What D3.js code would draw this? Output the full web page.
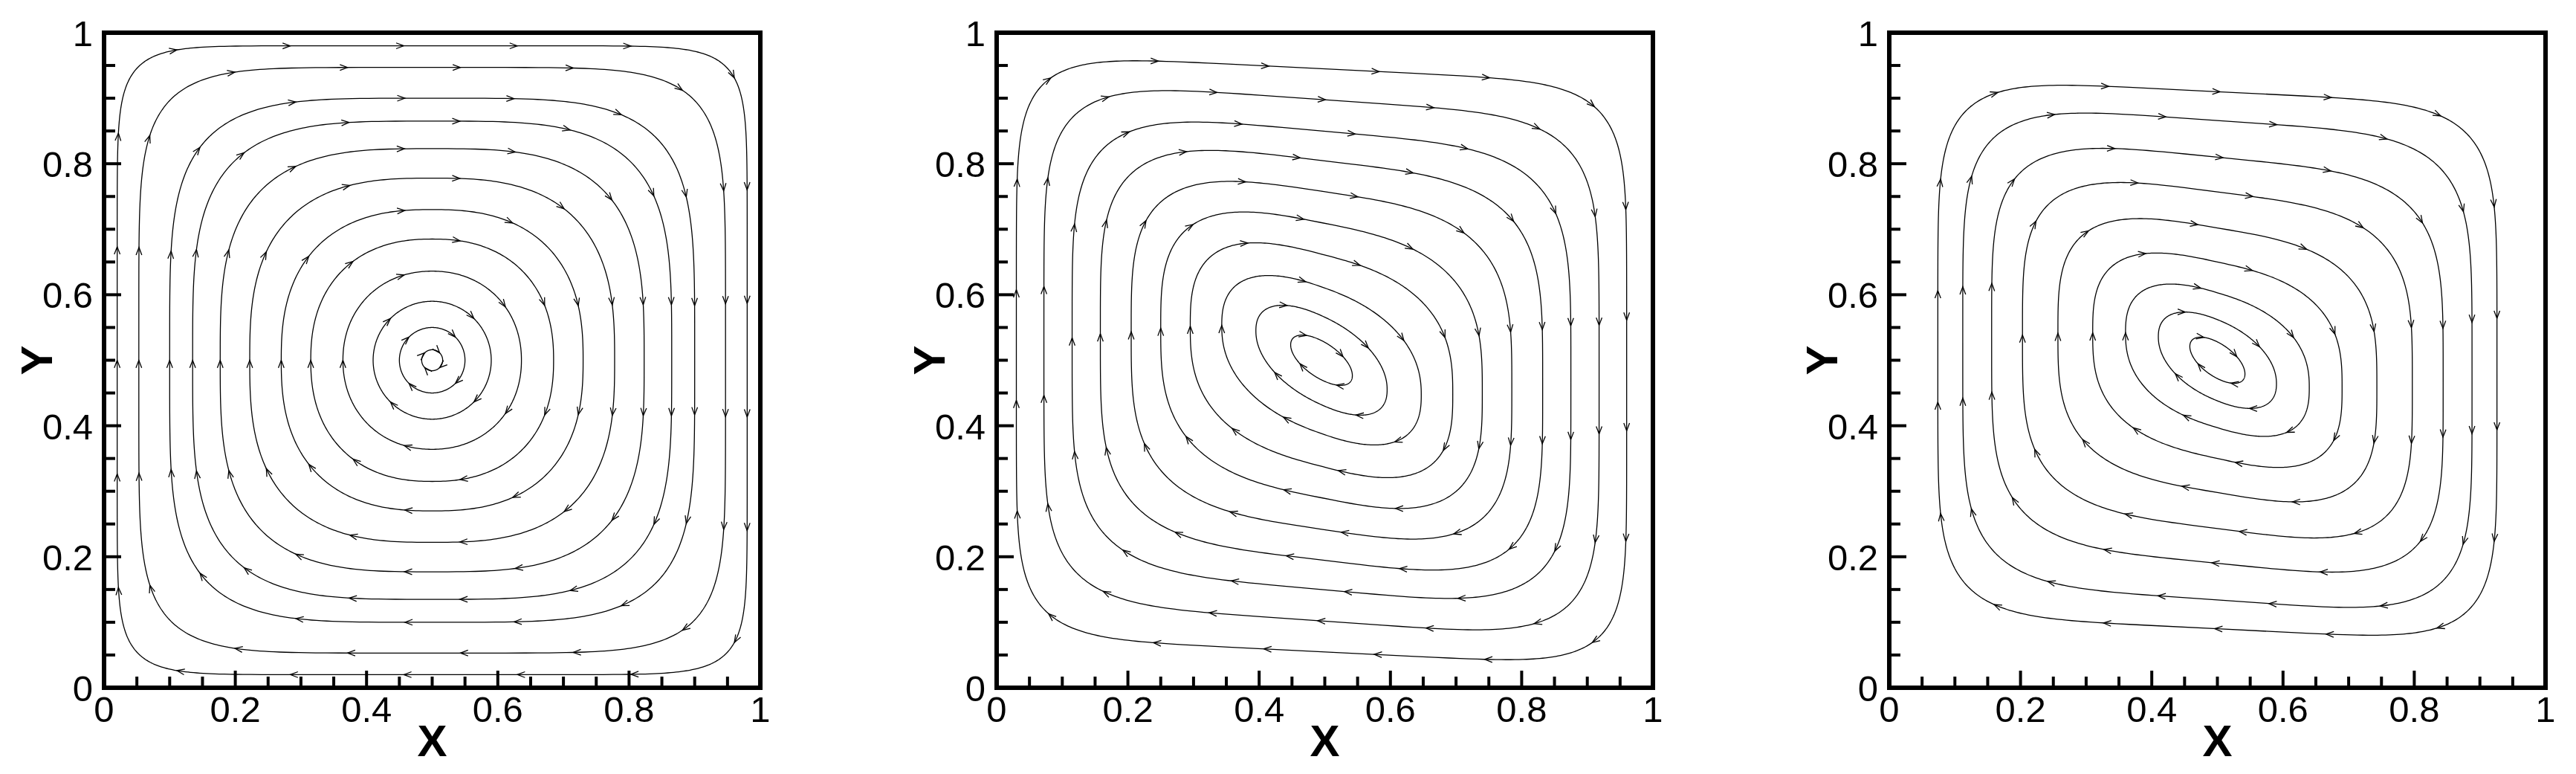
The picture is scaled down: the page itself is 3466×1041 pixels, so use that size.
<!DOCTYPE html>
<html><head><meta charset="utf-8">
<script src="https://cdn.jsdelivr.net/npm/d3@7"></script>
<style>body{margin:0;background:#fff}text{font-family:"Liberation Sans",Arial,sans-serif}</style>
</head><body><svg id="c" width="3466" height="1041"></svg>
<script>
// Streamline loops per panel: semi-axis x, semi-axis y, squareness exponent, vertical shear
const p1HalfX = [0.48,0.447,0.40,0.365,0.323,0.278,0.23,0.185,0.136,0.09,0.05,0.016];
const p1HalfY = [0.48,0.447,0.40,0.365,0.323,0.278,0.23,0.185,0.136,0.09,0.05,0.016];
const p1Exp   = [10,6,4.3,3.7,3.2,2.8,2.5,2.3,2.1,2,2,2];
const p1Shear = [0,0,0,0,0,0,0,0,0,0,0,0];
const p2HalfX = [0.465,0.423,0.38,0.337,0.29,0.245,0.2,0.152,0.1,0.047];
const p2HalfY = [0.445,0.398,0.35,0.305,0.258,0.21,0.162,0.112,0.068,0.03];
const p2Exp   = [7,5.5,4.5,4,3.5,3.1,2.8,2.4,2.2,2.05];
const p2Shear = [-0.05,-0.07,-0.09,-0.12,-0.15,-0.2,-0.26,-0.35,-0.45,-0.5];
const p3HalfX = [0.426,0.388,0.344,0.297,0.243,0.19,0.14,0.09,0.042];
const p3HalfY = [0.41,0.366,0.31,0.257,0.202,0.15,0.103,0.062,0.028];
const p3Exp   = [6,5,4.3,3.8,3.3,2.9,2.5,2.2,2.05];
const p3Shear = [-0.05,-0.07,-0.1,-0.13,-0.17,-0.22,-0.3,-0.4,-0.5];
const centers = [[0.5,0.5],[0.495,0.5],[0.5,0.5]];
const panelLeft = [140,1341,2542];
const xTicks = [0,0.2,0.4,0.6,0.8,1];
const yTicks = [0,0.2,0.4,0.6,0.8,1];
const tickLabels = ["0","0.2","0.4","0.6","0.8","1"];

const panels = [
 {hx:p1HalfX,hy:p1HalfY,n:p1Exp,k:p1Shear},
 {hx:p2HalfX,hy:p2HalfY,n:p2Exp,k:p2Shear},
 {hx:p3HalfX,hy:p3HalfY,n:p3Exp,k:p3Shear}];
const svg = d3.select("#c");
const W = 883, T0 = 44, H = 881;
panels.forEach((p,pi)=>{
  const L = panelLeft[pi];
  const x = d3.scaleLinear().domain([0,1]).range([L,L+W]);
  const y = d3.scaleLinear().domain([0,1]).range([T0+H,T0]);
  const g = svg.append("g");
  const [cx,cy] = centers[pi];
  const line = d3.line().x(d=>x(d[0])).y(d=>y(d[1])).curve(d3.curveLinearClosed);
  p.hx.forEach((a,i)=>{
    const b=p.hy[i], n=p.n[i], k=p.k[i];
    const pts=[];
    const N=400;
    for(let j=0;j<N;j++){
      const u = -2*Math.PI*j/N; // clockwise
      const c=Math.cos(u), s=Math.sin(u);
      const ex=a*Math.sign(c)*Math.pow(Math.abs(c),2/n);
      const ey=b*Math.sign(s)*Math.pow(Math.abs(s),2/n);
      pts.push([cx+ex, cy+ey+k*ex]);
    }
    const path = g.append("path").attr("d",line(pts)).attr("fill","none")
      .attr("stroke","#000").attr("stroke-width",1.3);
    const node=path.node(), len=node.getTotalLength();
    const nA = Math.max(4,Math.round(len/150));
    for(let j=0;j<nA;j++){
      const l=(j+0.5)*len/nA;
      const p0=node.getPointAtLength(l), p1=node.getPointAtLength(Math.min(len,l+2));
      const ang=Math.atan2(p1.y-p0.y,p1.x-p0.x);
      const s=11, w=0.36;
      const bx1=p0.x-s*Math.cos(ang-w), by1=p0.y-s*Math.sin(ang-w);
      const bx2=p0.x-s*Math.cos(ang+w), by2=p0.y-s*Math.sin(ang+w);
      g.append("path").attr("d",`M${bx1},${by1}L${p0.x},${p0.y}L${bx2},${by2}`)
        .attr("fill","none").attr("stroke","#000").attr("stroke-width",1.3);
    }
  });
  g.append("rect").attr("x",x(0)).attr("y",y(1)).attr("width",W).attr("height",H)
    .attr("fill","none").attr("stroke","#000").attr("stroke-width",6);
  const minor=d3.range(0,1.0001,0.05);
  minor.forEach(v=>{
    const major = Math.abs(v*5-Math.round(v*5))<1e-6;
    const tl = major?23:15;
    g.append("line").attr("x1",x(v)).attr("x2",x(v)).attr("y1",y(0)).attr("y2",y(0)-tl).attr("stroke","#000").attr("stroke-width",4);
    g.append("line").attr("x1",x(0)).attr("x2",x(0)+tl).attr("y1",y(v)).attr("y2",y(v)).attr("stroke","#000").attr("stroke-width",4);
  });
  xTicks.forEach((v,i)=>g.append("text").attr("x",x(v)).attr("y",971).attr("text-anchor","middle")
    .attr("font-size",49).text(tickLabels[i]));
  yTicks.forEach((v,i)=>g.append("text").attr("x",x(0)-15).attr("y",y(v)+18).attr("text-anchor","end")
    .attr("font-size",49).text(tickLabels[i]));
  g.append("text").attr("x",x(0.5)).attr("y",1017).attr("text-anchor","middle").attr("font-size",60).attr("font-weight","bold").text("X");
  g.append("text").attr("transform",`translate(${L-70},${y(0.5)}) rotate(-90)`).attr("text-anchor","middle")
    .attr("font-size",60).attr("font-weight","bold").text("Y");
});
</script></body></html>
